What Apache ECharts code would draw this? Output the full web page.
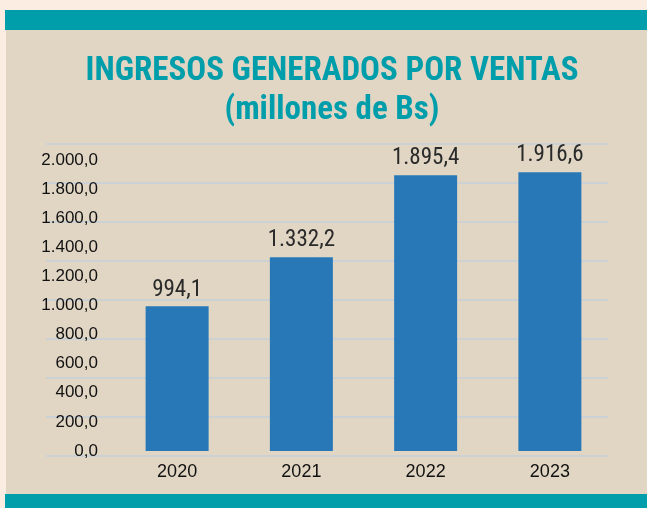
<!DOCTYPE html>
<html>
<head>
<meta charset="utf-8">
<title>Ingresos generados por ventas</title>
<script src="https://cdn.jsdelivr.net/npm/echarts@6/dist/echarts.min.js"></script>
<style>
    body { margin: 0; background: #fcede3; }
    #page { position: relative; width: 647px; height: 508px; overflow: hidden; }
    .band { position: absolute; left: 5px; right: 0; background: #009dab; }
    #panel { position: absolute; left: 6px; right: 0; top: 30px; height: 464px; background: #e1d6c4; }
    #chart { position: absolute; left: 0; top: 0; width: 647px; height: 508px; }
</style>
</head>
<body>
<div id="page">
    <div class="band" style="top:10px;height:20px"></div>
    <div id="panel"></div>
    <div class="band" style="top:494px;height:14px"></div>
    <div id="chart"></div>
</div>
<script>
var years = ["2020", "2021", "2022", "2023"];
var ingresos = [994.1, 1332.2, 1895.4, 1916.6];
var yTicks = [0, 200, 400, 600, 800, 1000, 1200, 1400, 1600, 1800, 2000];

function fmt(v) {
    var parts = v.toFixed(1).split(".");
    var ent = parts[0].replace(/\B(?=(\d{3})+(?!\d))/g, ".");
    return ent + "," + parts[1];
}

var dom = document.getElementById("chart");
var myChart = echarts.init(dom, null, { renderer: "canvas" });

var option = {
    animation: false,
    graphic: [
        {
            type: "text",
            x: 332,
            y: 72,
            style: {
                text: "INGRESOS GENERADOS POR VENTAS",
                font: "bold 33px 'Roboto Condensed'",
                fill: "#009dab",
                textAlign: "center",
                textVerticalAlign: "middle"
            }
        },
        {
            type: "text",
            x: 332,
            y: 111,
            style: {
                text: "(millones de Bs)",
                font: "bold 33px 'Roboto Condensed'",
                fill: "#009dab",
                textAlign: "center",
                textVerticalAlign: "middle"
            }
        }
    ],
    grid: [
        { left: 115, right: 35, top: 160, bottom: 57 },
        // rejilla de fondo (no coincide con las etiquetas en el original)
        { left: 46, right: 39, top: 144, bottom: 52 }
    ],
    xAxis: [
        {
            type: "category",
            gridIndex: 0,
            data: years,
            axisLine: { show: false },
            axisTick: { show: false },
            axisLabel: {
                margin: 12,
                color: "#111",
                fontFamily: "Liberation Sans",
                fontSize: 18
            }
        },
        {
            type: "value",
            gridIndex: 1,
            show: false
        }
    ],
    yAxis: [
        {
            type: "value",
            gridIndex: 0,
            min: yTicks[0],
            max: yTicks[yTicks.length - 1],
            interval: yTicks[1] - yTicks[0],
            splitLine: { show: false },
            axisLabel: {
                margin: 17,
                color: "#111",
                fontFamily: "Liberation Sans",
                fontSize: 17,
                formatter: fmt
            }
        },
        {
            type: "value",
            gridIndex: 1,
            min: 0,
            max: 8,
            interval: 1,
            axisLabel: { show: false },
            axisLine: { show: false },
            axisTick: { show: false },
            splitLine: { lineStyle: { color: "#ccd1d4", width: 2 } }
        }
    ],
    series: [
        {
            name: "Ingresos",
            type: "bar",
            xAxisIndex: 0,
            yAxisIndex: 0,
            data: ingresos,
            barWidth: 63,
            z: 3,
            itemStyle: { color: "#2878b8" },
            label: {
                show: true,
                position: "top",
                distance: 5,
                color: "#2a2a2a",
                fontFamily: "Roboto Condensed",
                fontSize: 23,
                formatter: function (p) { return fmt(p.value); }
            }
        }
    ]
};

myChart.setOption(option);
window.addEventListener("resize", myChart.resize);
</script>
</body>
</html>
